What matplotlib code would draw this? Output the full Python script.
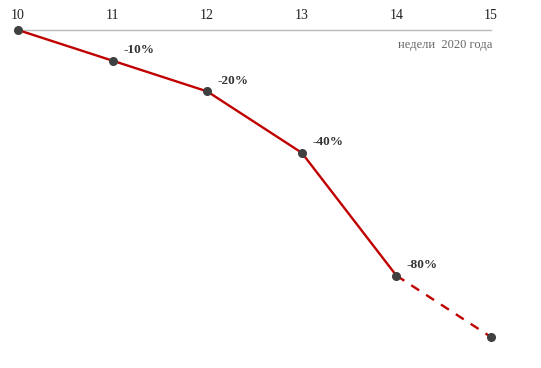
import matplotlib
matplotlib.use("Agg")
import matplotlib.pyplot as plt

weeks = [10, 11, 12, 13, 14, 15]
values = [0, -10, -20, -40, -80, -100]
labels = ["", "-10%", "-20%", "-40%", "-80%", ""]
axis_caption = "недели  2020 года"

plt.rcParams['font.family'] = ['Liberation Serif', 'DejaVu Serif']

fig = plt.figure(figsize=(5.41, 3.68), dpi=100)
ax = fig.add_axes([0, 0, 1, 1])
ax.set_xlim(10 - 18 / 94.6, 10 + 523 / 94.6)
ax.set_ylim(-338 / 3.07, 30 / 3.07)
ax.axis('off')

line_color = '#c00000'
ax.plot([weeks[0], weeks[-1]], [0, 0], color='#bbbbbb', lw=1.0, zorder=1)
ax.plot(weeks[:5], values[:5], color=line_color, lw=1.7, zorder=2)
ax.plot(weeks[4:], values[4:], color=line_color, lw=1.7, ls=(0, (4, 3.5)), zorder=2)
ax.plot(weeks, values, 'o', color='#404040', ms=5.5, zorder=3)

for w in weeks:
    ax.annotate(str(w), (w, 0), xytext=(0, 6), textcoords='offset points',
                ha='center', va='bottom', fontsize=10, color='#222222')

for w, v, lab in zip(weeks, values, labels):
    if lab:
        ax.annotate(lab, (w, v), xytext=(7.5, 7.5), textcoords='offset points',
                    ha='left', va='center', fontsize=9.5, fontweight='bold', color='#333333')

ax.annotate(axis_caption, (weeks[-1], 0), xytext=(1, -10.5), textcoords='offset points',
            ha='right', va='center', fontsize=9, color='#666666')

fig.savefig('out.png', dpi=100)
